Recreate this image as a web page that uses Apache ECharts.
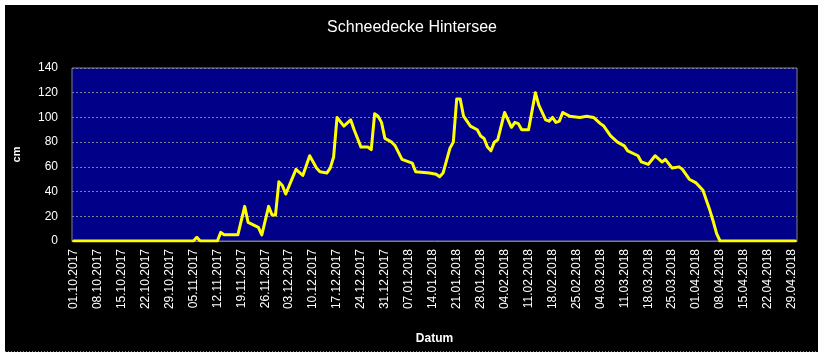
<!DOCTYPE html>
<html>
<head>
<meta charset="utf-8">
<script src="https://cdn.jsdelivr.net/npm/echarts@6/dist/echarts.min.js"></script>
<style>
html,body{margin:0;padding:0;background:#fff;}
#c{width:824px;height:357px;}
</style>
</head>
<body>
<div id="c"></div>
<script>
var startDate = [2017, 9, 1]; // 01.10.2017
var dayCount = 212;           // 01.10.2017 .. 30.04.2018
var yTicks = [0, 20, 40, 60, 80, 100, 120, 140];

var pointDates = [
 "01.10.2017","05.11.2017","06.11.2017","07.11.2017","12.11.2017","13.11.2017","14.11.2017","18.11.2017",
 "20.11.2017","21.11.2017","24.11.2017","25.11.2017","27.11.2017","28.11.2017","29.11.2017","30.11.2017",
 "01.12.2017","02.12.2017","05.12.2017","07.12.2017","09.12.2017","11.12.2017","12.12.2017","14.12.2017",
 "15.12.2017","16.12.2017","17.12.2017","19.12.2017","21.12.2017","22.12.2017","24.12.2017","26.12.2017",
 "27.12.2017","28.12.2017","29.12.2017","30.12.2017","31.12.2017","02.01.2018","03.01.2018","05.01.2018",
 "06.01.2018","08.01.2018","09.01.2018","13.01.2018","15.01.2018","16.01.2018","17.01.2018","19.01.2018",
 "20.01.2018","21.01.2018","22.01.2018","23.01.2018","25.01.2018","27.01.2018","28.01.2018","29.01.2018",
 "30.01.2018","31.01.2018","01.02.2018","02.02.2018","04.02.2018","06.02.2018","07.02.2018","08.02.2018",
 "09.02.2018","11.02.2018","13.02.2018","14.02.2018","16.02.2018","17.02.2018","18.02.2018","19.02.2018",
 "20.02.2018","21.02.2018","23.02.2018","26.02.2018","28.02.2018","02.03.2018","04.03.2018","05.03.2018",
 "07.03.2018","09.03.2018","11.03.2018","12.03.2018","15.03.2018","16.03.2018","18.03.2018","20.03.2018",
 "22.03.2018","23.03.2018","25.03.2018","27.03.2018","28.03.2018","30.03.2018","01.04.2018","03.04.2018",
 "04.04.2018","05.04.2018","06.04.2018","07.04.2018","08.04.2018","30.04.2018"
];
var snowDepth = [
 0,0,3,0,0,7,5,5,
 28,15,11,5,28,21,21,48,
 45,38,58,53,69,59,56,55,
 59,68,100,93,98,90,76,76,
 74,103,101,96,83,80,77,66,
 65,63,56,55,54,52,55,75,
 80,115,115,101,93,90,85,83,
 76,73,80,82,104,92,96,95,
 90,90,120,110,98,97,100,96,
 97,104,101,100,101,100,95,93,
 85,80,77,73,69,64,62,69,
 64,66,59,60,58,50,47,41,
 33,25,16,6,0,0
];

function pad(n){return (n<10?'0':'')+n;}
var categories = [];
for (var i = 0; i < dayCount; i++) {
  var d = new Date(Date.UTC(startDate[0], startDate[1], startDate[2] + i));
  categories.push(pad(d.getUTCDate()) + '.' + pad(d.getUTCMonth()+1) + '.' + d.getUTCFullYear());
}
var seriesData = pointDates.map(function(dt, k){ return [dt, snowDepth[k]]; });

var chart = echarts.init(document.getElementById('c'), null, {renderer:'canvas'});
var font = '"Liberation Sans", Arial, sans-serif';
chart.setOption({
  backgroundColor: '#ffffff',
  animation: false,
  graphic: [
    {type:'rect', z:-10, shape:{x:5,y:5,width:813,height:347}, style:{fill:'#000000'}},
    {type:'line', z:-9, shape:{x1:5,y1:352,x2:818,y2:352}, style:{stroke:'#ffffff', lineWidth:1, lineDash:[1,2]}}
  ],
  title: {
    text: 'Schneedecke Hintersee',
    left: 'center', top: 15,
    textStyle: {color:'#ffffff', fontFamily: font, fontSize: 16, fontWeight: 'normal'}
  },
  grid: {left:72, right:27, top:68, bottom:116, show:true, backgroundColor:'#000088', borderColor:'#808080', borderWidth:1},
  xAxis: {
    type: 'category',
    data: categories,
    boundaryGap: true,
    name: 'Datum',
    nameLocation: 'middle',
    nameGap: 92,
    nameTextStyle: {color:'#ffffff', fontFamily: font, fontSize: 12, fontWeight: 'bold'},
    axisLine: {show:true, lineStyle:{color:'#808080'}},
    axisTick: {show:false},
    axisLabel: {interval: 6, rotate: 90, color:'#ffffff', fontFamily: font, fontSize: 12, margin: 8},
    splitLine: {show:false}
  },
  yAxis: {
    type: 'value',
    min: yTicks[0], max: yTicks[yTicks.length-1], interval: 20,
    name: 'cm',
    nameLocation: 'middle',
    nameGap: 50,
    nameRotate: 90,
    nameTextStyle: {color:'#ffffff', fontFamily: font, fontSize: 11, fontWeight: 'bold'},
    axisLine: {show:false},
    axisTick: {show:false},
    axisLabel: {color:'#ffffff', fontFamily: font, fontSize: 12, margin: 14},
    splitLine: {show:true, lineStyle:{color:'#8080a0', type:[2,2], width:1}}
  },
  series: [{
    type: 'line',
    data: seriesData,
    symbol: 'none',
    lineStyle: {color:'#ffff00', width:3, join:'round', cap:'round'},
    z: 5
  }]
});
</script>
</body>
</html>
